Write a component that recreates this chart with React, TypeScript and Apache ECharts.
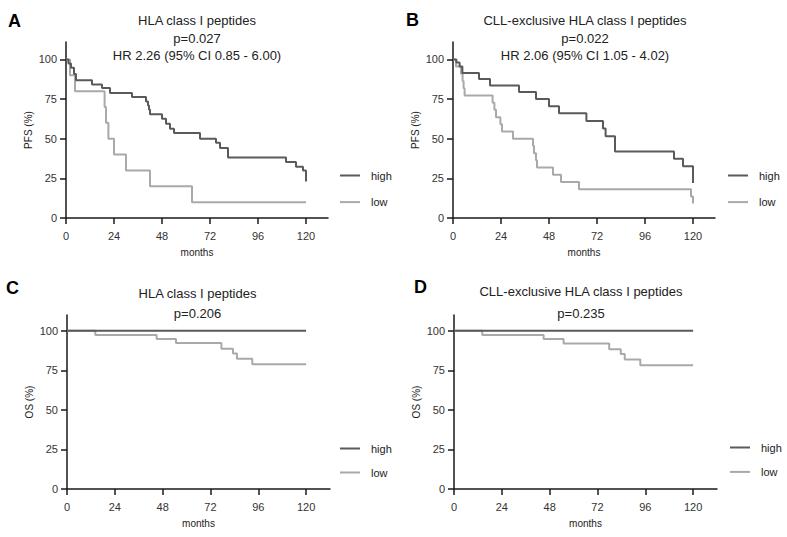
import React, { useEffect, useRef } from "react";
import * as echarts from "echarts";

// ---- data (months, % surviving) ----
const pfsAllHigh: number[][] = [
  [0, 100], [1.2, 97.4], [2.5, 94.7], [4, 90.8], [5, 86.8], [13, 84.2], [18, 82], [22, 78.9],
  [33, 76.3], [40, 73.5], [41, 71], [41.5, 68.5], [42, 65.5], [48, 62.6], [50, 59.5], [52, 56.3],
  [54, 53.6], [67, 50], [75, 47.5], [77, 44.2], [81, 38.2], [110, 35.3], [115, 32.3], [118.5, 30],
  [120, 23],
];
const pfsAllLow: number[][] = [
  [0, 100], [2, 90], [4.5, 80], [19.3, 70], [20, 60], [21.2, 50], [24, 40], [30, 30], [42, 20],
  [63, 10], [120, 10],
];
const pfsExclHigh: number[][] = [
  [0, 100], [1.7, 98], [3.3, 95.6], [4.7, 91.5], [13, 87.6], [18.5, 83.6], [33, 79.4], [41.5, 75],
  [48, 70.4], [53, 66], [66.7, 61.2], [75, 56.4], [76.3, 51.6], [81, 42], [110.5, 37.4], [115, 32.6],
  [120, 22],
];
const pfsExclLow: number[][] = [
  [0, 100], [1.5, 95.5], [4, 90.9], [4.8, 86.4], [5.3, 81.8], [5.8, 77.3], [19.8, 72.7], [20.7, 68.2],
  [21.5, 63.6], [23.7, 59.1], [24.5, 54.5], [30, 50], [40, 45.5], [40.5, 40.9], [41.5, 36.4],
  [42, 31.8], [50, 27.3], [54, 22.7], [63, 18.2], [119, 13.6], [120, 9.1],
];
const osAllHigh: number[][] = [[0, 100], [120, 100]];
const osAllLow: number[][] = [
  [0, 100], [14.2, 97.3], [45, 94.9], [54.7, 92.3], [77.5, 88.6], [83.3, 85.6], [85.3, 82.3],
  [93, 78.8], [120, 78.8],
];
const osExclHigh: number[][] = [[0, 100], [120, 100]];
const osExclLow: number[][] = [
  [0, 100], [14.2, 97.3], [45, 94.8], [55, 92], [77.9, 88.3], [83.7, 85.4], [85.7, 81.8],
  [93.5, 78.3], [120, 78.3],
];

const xTicks = [0, 24, 48, 72, 96, 120];
const yTicks = [0, 25, 50, 75, 100];
const groups = ["high", "low"];

const panelTitles = [
  ["HLA class I peptides", "p=0.027", "HR 2.26 (95% CI 0.85 - 6.00)"],
  ["CLL-exclusive HLA class I peptides", "p=0.022", "HR 2.06 (95% CI 1.05 - 4.02)"],
  ["HLA class I peptides", "p=0.206"],
  ["CLL-exclusive HLA class I peptides", "p=0.235"],
];
const panelLetters = ["A", "B", "C", "D"];
const yNames = ["PFS (%)", "PFS (%)", "OS (%)", "OS (%)"];
const curves = [
  [pfsAllHigh, pfsAllLow],
  [pfsExclHigh, pfsExclLow],
  [osAllHigh, osAllLow],
  [osExclHigh, osExclLow],
];

const FONT = "'Liberation Sans', Arial, Helvetica, sans-serif";
const DARK = "#5a5a5a";
const LIGHT = "#a9a9a9";
const AXIS = "#1a1a1a";
const TEXT = "#222";

export default function App() {
  const ref = useRef<HTMLDivElement>(null);
  useEffect(() => {
    if (!ref.current) return;
    const chart = echarts.init(ref.current, undefined, { renderer: "svg" });

    const grids = [
      { left: 66, top: 42, width: 262, height: 176 },
      { left: 453, top: 42, width: 262, height: 176 },
      { left: 67, top: 315, width: 263, height: 174 },
      { left: 454, top: 315, width: 263, height: 174 },
    ];
    const xMax = [131, 131, 132, 132];
    const yMax = [111, 111, 110, 110];
    const nameGapsX = [29, 29, 29, 29];

    const xAxis = grids.map((_, i) => ({
      type: "value",
      gridIndex: i,
      min: 0,
      max: xMax[i],
      name: "months",
      nameLocation: "middle",
      nameGap: nameGapsX[i],
      nameTextStyle: { fontFamily: FONT, fontSize: 10, color: TEXT },
      axisLine: { lineStyle: { color: AXIS, width: 1.5 } },
      axisTick: { show: true, length: 6, customValues: xTicks, lineStyle: { color: AXIS, width: 1.5 } },
      axisLabel: { customValues: xTicks, fontFamily: FONT, fontSize: 11, color: "#333", margin: 12 },
      splitLine: { show: false },
    }));
    const yAxis = grids.map((_, i) => ({
      type: "value",
      gridIndex: i,
      min: 0,
      max: yMax[i],
      name: yNames[i],
      nameLocation: "middle",
      nameGap: 33,
      nameTextStyle: { fontFamily: FONT, fontSize: 10, color: TEXT },
      axisLine: { show: true, lineStyle: { color: AXIS, width: 1.5 } },
      axisTick: { show: true, length: 6, customValues: yTicks, lineStyle: { color: AXIS, width: 1.5 } },
      axisLabel: { customValues: yTicks, fontFamily: FONT, fontSize: 11, color: "#333", margin: 9 },
      splitLine: { show: false },
    }));

    const series: any[] = [];
    curves.forEach((pair, i) => {
      pair.forEach((data, j) => {
        series.push({
          type: "line",
          name: groups[j],
          xAxisIndex: i,
          yAxisIndex: i,
          data,
          step: "end",
          symbol: "none",
          color: j === 0 ? DARK : LIGHT,
          lineStyle: { width: 2, color: j === 0 ? DARK : LIGHT },
          z: j === 0 ? 3 : 2,
        });
      });
    });

    const legendPos = [
      { left: 340, top: 170, itemGap: 15.6 },
      { left: 728, top: 170, itemGap: 15.6 },
      { left: 340, top: 443, itemGap: 13 },
      { left: 730, top: 442, itemGap: 13.4 },
    ];
    const legend = legendPos.map((p) => ({
      ...p,
      padding: 0,
      orient: "vertical",
      data: groups,
      icon: "rect",
      itemWidth: 20,
      itemHeight: 2,
      selectedMode: false,
      textStyle: { fontFamily: FONT, fontSize: 11, color: TEXT, padding: [0, 0, 0, 6] },
    }));

    const titleY = [
      [20, 38, 55.5],
      [20, 38, 55.5],
      [293.5, 313.5],
      [291.7, 313.5],
    ];
    const titleX = [197, 585, 197.5, 581];
    const letterPos = [
      [8, 21],
      [406, 20],
      [6, 287.5],
      [414, 287],
    ];
    const graphic: any[] = [];
    panelTitles.forEach((lines, i) => {
      lines.forEach((t, k) => {
        graphic.push({
          type: "text",
          x: titleX[i],
          y: titleY[i][k],
          style: {
            text: t,
            fill: TEXT,
            font: `13px ${FONT}`,
            textAlign: "center",
            textVerticalAlign: "middle",
          },
        });
      });
      graphic.push({
        type: "text",
        x: letterPos[i][0],
        y: letterPos[i][1],
        style: {
          text: panelLetters[i],
          fill: "#000",
          font: `bold 18px ${FONT}`,
          textAlign: "left",
          textVerticalAlign: "middle",
        },
      });
    });

    chart.setOption({
      animation: false,
      backgroundColor: "#fff",
      grid: grids,
      xAxis,
      yAxis,
      series,
      legend,
      graphic,
    });
    return () => chart.dispose();
  }, []);
  return (
    <div
      ref={ref}
      style={{ position: "fixed", left: 0, top: 0, width: 787, height: 537, background: "#fff" }}
    />
  );
}
